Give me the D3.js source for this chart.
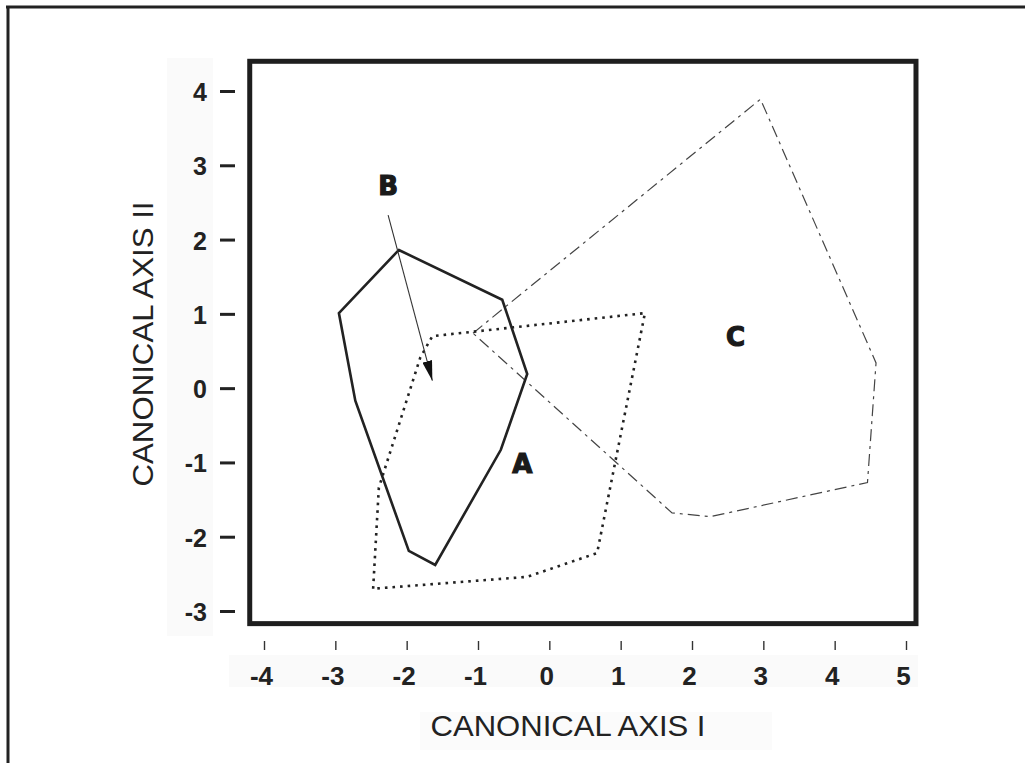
<!DOCTYPE html>
<html>
<head>
<meta charset="utf-8">
<script src="https://cdn.jsdelivr.net/npm/d3@7"></script>
<style>
  html, body { margin: 0; padding: 0; background: #fff; }
  svg { display: block; }
</style>
</head>
<body>
<svg id="chart" width="1025" height="763"></svg>
<script>
// ---- data ----
const xTicks = [-4, -3, -2, -1, 0, 1, 2, 3, 4, 5];
const yTicks = [4, 3, 2, 1, 0, -1, -2, -3];
const xTitle = "CANONICAL AXIS I";
const yTitle = "CANONICAL AXIS II";

// group A: solid convex hull
const groupA = [
  [-2.11, 1.86], [-0.66, 1.19], [-0.31, 0.19], [-0.68, -0.83],
  [-1.60, -2.38], [-1.97, -2.19], [-2.72, -0.17], [-2.95, 1.01]
];
// group B: dotted hull
const groupB = [
  [-2.47, -2.70], [-2.39, -1.34], [-1.81, 0.41], [-1.64, 0.70],
  [1.34, 1.01], [0.67, -2.22], [-0.31, -2.54]
];
// group C: dash-dot hull
const groupC = [
  [-1.07, 0.74], [2.96, 3.89], [4.58, 0.34], [4.46, -1.27],
  [2.26, -1.73], [1.72, -1.68]
];
const labels = [
  { text: "A", x: -0.38, y: -1.02 },
  { text: "B", x: -2.26, y: 2.72 },
  { text: "C", x: 2.61, y: 0.70 }
];
const arrowB = [[-2.26, 2.33], [-1.64, 0.10]];
const frameX = [-4.2, 5.14];
const frameY = [4.4, -3.17];

// ---- scales ----
const x = d3.scaleLinear().domain([-4, 5]).range([264, 906]);
const y = d3.scaleLinear().domain([-3, 4]).range([611, 91]);

const svg = d3.select("#chart");

// outer page frame (scan border)
svg.append("line").attr("x1", 6).attr("x2", 1025).attr("y1", 7).attr("y2", 7)
  .attr("stroke", "#222").attr("stroke-width", 3);
svg.append("line").attr("x1", 8).attr("x2", 8).attr("y1", 6).attr("y2", 763)
  .attr("stroke", "#222").attr("stroke-width", 3);

// faint scan shading behind label areas
svg.append("rect").attr("x", 167).attr("y", 58).attr("width", 46).attr("height", 578).attr("fill", "#fafafa");
svg.append("rect").attr("x", 229).attr("y", 655).attr("width", 689).attr("height", 32).attr("fill", "#fafafa");
svg.append("rect").attr("x", 420).attr("y", 712).attr("width", 352).attr("height", 38).attr("fill", "#fbfbfb");

const fr = { x0: x(frameX[0]), x1: x(frameX[1]), y0: y(frameY[0]), y1: y(frameY[1]) };

// ---- axes ----
const font = "'Liberation Sans', Arial, Helvetica, sans-serif";

const xAxis = svg.append("g")
  .attr("transform", "translate(0,641)")
  .call(d3.axisBottom(x).tickValues(xTicks).tickSize(9).tickPadding(17).tickFormat(d3.format("d")));
xAxis.select(".domain").remove();
xAxis.selectAll(".tick line").attr("stroke", "#333").attr("stroke-width", 1.4);
xAxis.selectAll(".tick text")
  .attr("font-family", font).attr("font-weight", "bold").attr("font-size", 26)
  .attr("fill", "#222").attr("dy", "0.71em").attr("dx", "-3")
  .text(d => d < 0 ? "-" + Math.abs(d) : d);

const yAxis = svg.append("g")
  .attr("transform", "translate(235,0)")
  .call(d3.axisLeft(y).tickValues(yTicks).tickSize(15).tickPadding(13).tickFormat(d3.format("d")));
yAxis.select(".domain").remove();
yAxis.selectAll(".tick line").attr("stroke", "#222").attr("stroke-width", 3);
yAxis.selectAll(".tick text")
  .attr("font-family", font).attr("font-weight", "bold").attr("font-size", 25)
  .attr("fill", "#222").attr("dy", "0.38em")
  .text(d => d < 0 ? "-" + Math.abs(d) : d);

// axis titles
svg.append("text")
  .attr("x", 568).attr("y", 736)
  .attr("text-anchor", "middle")
  .attr("font-family", font).attr("font-size", 29).attr("fill", "#222")
  .attr("textLength", 275).attr("lengthAdjust", "spacingAndGlyphs")
  .text(xTitle);
svg.append("text")
  .attr("transform", "translate(153,344) rotate(-90)")
  .attr("text-anchor", "middle")
  .attr("font-family", font).attr("font-size", 29).attr("fill", "#222")
  .attr("textLength", 285).attr("lengthAdjust", "spacingAndGlyphs")
  .text(yTitle);

// ---- hulls ----
const line = d3.line().x(d => x(d[0])).y(d => y(d[1])).curve(d3.curveLinearClosed);

svg.append("path").datum(groupC)
  .attr("d", line).attr("fill", "none")
  .attr("stroke", "#444").attr("stroke-width", 1.2)
  .attr("stroke-dasharray", "12,5,3,5");

svg.append("path").datum(groupB)
  .attr("d", line).attr("fill", "none")
  .attr("stroke", "#222").attr("stroke-width", 2.6)
  .attr("stroke-dasharray", "2.6,5");

svg.append("path").datum(groupA)
  .attr("d", line).attr("fill", "none")
  .attr("stroke", "#222").attr("stroke-width", 2.6)
  .attr("stroke-linejoin", "miter");

// arrow from B label
svg.append("defs").append("marker")
  .attr("id", "arrowhead")
  .attr("viewBox", "0 0 20 10")
  .attr("refX", 20).attr("refY", 5)
  .attr("markerWidth", 20).attr("markerHeight", 10)
  .attr("markerUnits", "userSpaceOnUse")
  .attr("orient", "auto")
  .append("path").attr("d", "M0,0 L20,5 L0,10 Z").attr("fill", "#111");

svg.append("line")
  .attr("x1", x(arrowB[0][0])).attr("y1", y(arrowB[0][1]))
  .attr("x2", x(arrowB[1][0])).attr("y2", y(arrowB[1][1]))
  .attr("stroke", "#333").attr("stroke-width", 1.1)
  .attr("marker-end", "url(#arrowhead)");

// group labels
svg.selectAll("text.glabel").data(labels).enter().append("text")
  .attr("class", "glabel")
  .attr("x", d => x(d.x)).attr("y", d => y(d.y))
  .attr("dy", "0.36em")
  .attr("text-anchor", "middle")
  .attr("font-family", "'DejaVu Sans', sans-serif").attr("font-weight", "bold")
  .attr("font-size", 26).attr("fill", "#1a1a1a")
  .attr("stroke", "#1a1a1a").attr("stroke-width", 1.2)
  .text(d => d.text);

// plot frame
svg.append("rect")
  .attr("x", fr.x0).attr("y", fr.y0)
  .attr("width", fr.x1 - fr.x0).attr("height", fr.y1 - fr.y0)
  .attr("fill", "none").attr("stroke", "#1e1e1e").attr("stroke-width", 5);
</script>
</body>
</html>
